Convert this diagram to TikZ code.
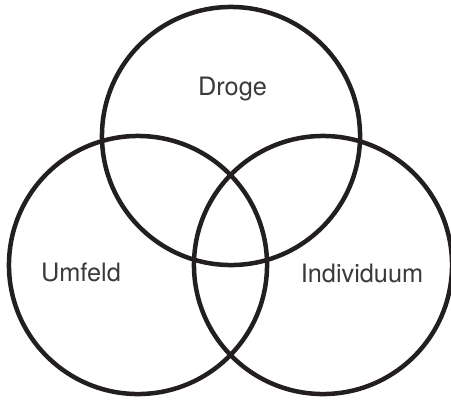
\documentclass[tikz,border=0pt]{standalone}
\usepackage{fontspec}
\setsansfont{TeX Gyre Heros}
\definecolor{ringblack}{HTML}{231F20}
\definecolor{labelgray}{HTML}{3A3A3A}

\begin{document}
\begin{tikzpicture}[x=0.025cm, y=-0.025cm, line width=3.2pt,
  ring/.style={draw=ringblack},
  lbl/.style={text=labelgray, font=\sffamily\fontsize{18}{21}\selectfont, anchor=base, inner sep=0pt}]

% Page frame
\useasboundingbox (0,0) rectangle (451,401);

% Circle centres
\coordinate (cDroge) at (231,136);
\coordinate (cUmfeld) at (138,265);
\coordinate (cIndiv) at (323,265);

% Rings
\draw[ring] (cDroge) circle[radius=3.225cm];
\draw[ring] (cUmfeld) circle[radius=3.225cm];
\draw[ring] (cIndiv) circle[radius=3.225cm];

% Labels
\node[lbl] (droge) at (232.5,95) {Droge};
\node[lbl] (umfeld) at (81,281.5) {Umfeld};
\node[lbl] (individuum) at (362,282) {Individuum};

\end{tikzpicture}
\end{document}
